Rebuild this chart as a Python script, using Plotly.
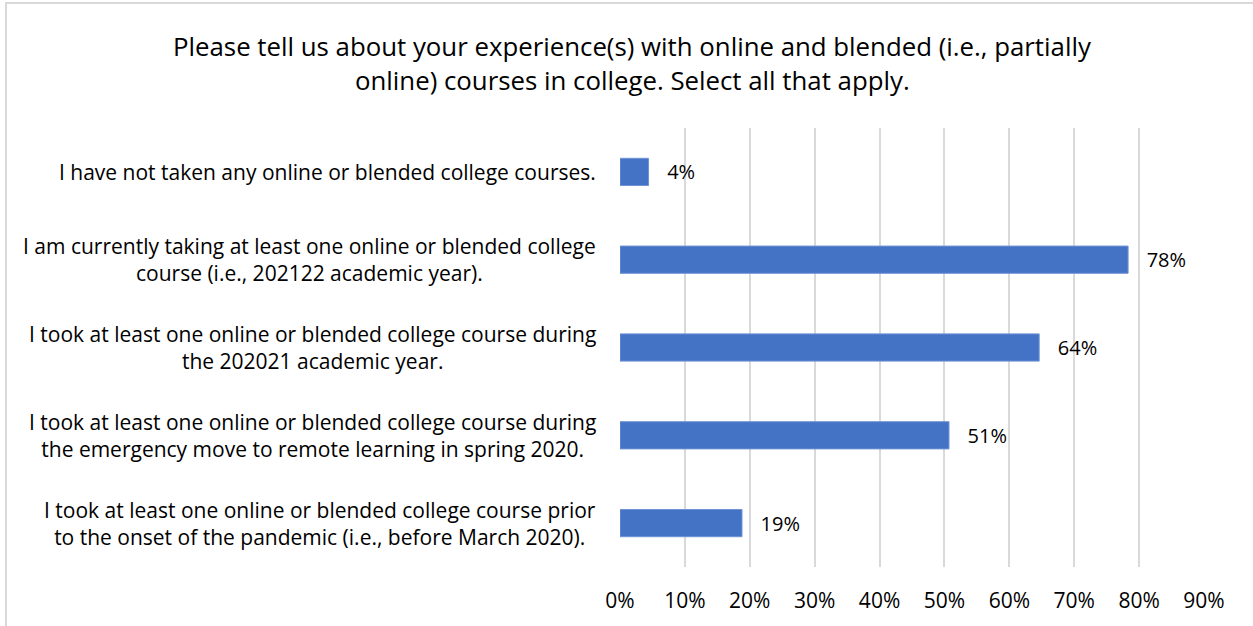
import plotly.graph_objects as go

categories = [
    "I have not taken any online or blended college courses.",
    "I am currently taking at least one online or blended college<br>course (i.e., 202122 academic year).",
    "I took at least one online or blended college course during<br>the 202021 academic year.",
    "I took at least one online or blended college course during<br>the emergency move to remote learning in spring 2020.",
    "I took at least one online or blended college course prior<br>to the onset of the pandemic (i.e., before March 2020).",
]
values = [0.044, 0.783, 0.646, 0.507, 0.188]
labels = ["4%", "78%", "64%", "51%", "19%"]
title_lines = [
    "Please tell us about your experience(s) with online and blended (i.e., partially",
    "online) courses in college. Select all that apply.",
]

W, H = 1253, 626
L, R, T, B = 620, 49, 128, 59
PW, PH = W - L - R, H - T - B
FONT = "Open Sans"

def px_x(p):
    return (p - L) / PW

def px_y(p):
    return (H - B - p) / PH

ids = list(range(len(categories)))

fig = go.Figure(go.Bar(
    x=values, y=ids, orientation="h",
    marker=dict(color="#4472C4", line=dict(color="#6f93d6", width=1)),
    text=labels, texttemplate="\u00a0\u00a0\u00a0%{text}",
    textposition="outside", cliponaxis=False,
    textfont=dict(family=FONT, size=20, color="#000000"),
    width=0.31,
))

annotations = []
for i, c in zip(ids, categories):
    annotations.append(dict(
        x=px_x(598), xref="paper", y=i, yref="y", text=c, showarrow=False,
        xanchor="right", yanchor="middle", align="center",
        font=dict(family=FONT, size=21, color="#000000"),
    ))
for line, py in zip(title_lines, [46, 80]):
    annotations.append(dict(
        x=px_x(632), xref="paper", y=px_y(py), yref="paper", text=line,
        showarrow=False, xanchor="center", yanchor="middle",
        font=dict(family=FONT, size=25.8, color="#000000"),
    ))

fig.update_layout(
    width=W, height=H,
    margin=dict(l=L, r=R, t=T, b=B),
    paper_bgcolor="white", plot_bgcolor="white",
    showlegend=False,
    xaxis=dict(range=[0, 0.9], dtick=0.1, tickformat=".0%",
               showgrid=True, gridcolor="#d9d9d9", gridwidth=2,
               zeroline=False, showline=False,
               ticks="", ticklabelstandoff=19,
               tickfont=dict(family=FONT, size=21, color="#000000")),
    yaxis=dict(range=[4.5, -0.5], showticklabels=False, showgrid=False,
               zeroline=False, showline=False, tickvals=ids),
    annotations=annotations,
    shapes=[dict(type="rect", xref="paper", yref="paper",
                 x0=px_x(6), x1=px_x(1262), y0=px_y(3), y1=px_y(640),
                 line=dict(color="#d9d9d9", width=2), fillcolor="rgba(0,0,0,0)",
                 layer="below")],
)

fig.write_html("out.html", config={"displayModeBar": False},
               post_script="document.body.style.margin='0';")
